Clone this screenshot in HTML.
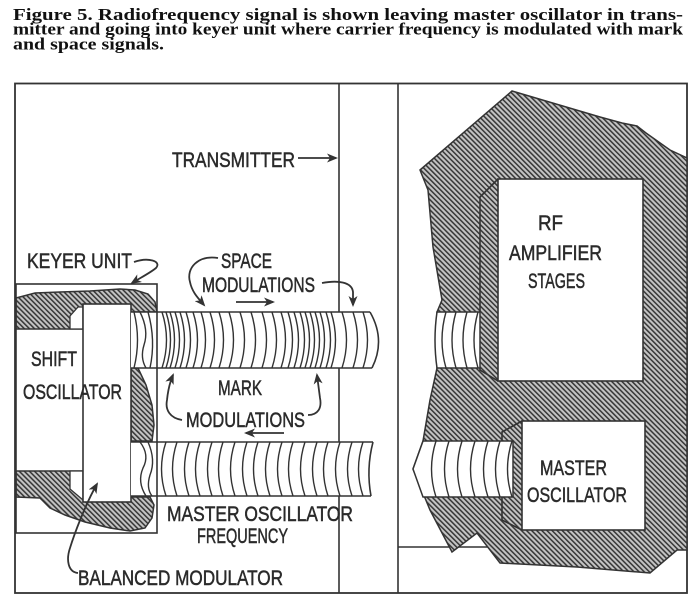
<!DOCTYPE html>
<html>
<head>
<meta charset="utf-8">
<style>
  html,body{margin:0;padding:0;background:#fff;}
  svg{display:block;}
  .cap{font-family:"Liberation Serif",serif;font-weight:bold;font-size:17px;fill:#111;}
  .lb{font-family:"Liberation Sans",sans-serif;font-size:21px;fill:#2a2a2a;stroke:#2a2a2a;stroke-width:0.5;}
  .ln{stroke:#333;stroke-width:1.6;fill:none;}
  .hz{fill:url(#hatch);stroke:#333;stroke-width:1.5;}
  .wb{fill:#fff;stroke:#333;stroke-width:1.6;}
  .rib{stroke:#333;stroke-width:1.4;fill:none;}
  .ar{stroke:#333;stroke-width:1.8;fill:none;}
</style>
</head>
<body>
<svg width="695" height="604" viewBox="0 0 695 604" xmlns="http://www.w3.org/2000/svg">
  <defs>
    <pattern id="hatch" width="3.6" height="3.6" patternUnits="userSpaceOnUse" patternTransform="rotate(-45)">
      <rect width="3.6" height="3.6" fill="#c4c4c4"/>
      <line x1="0.8" y1="0" x2="0.8" y2="3.6" stroke="#333" stroke-width="1.5"/>
    </pattern>
    <marker id="ah" markerWidth="11" markerHeight="9" refX="9" refY="4.5" orient="auto" markerUnits="userSpaceOnUse">
      <path d="M0,0 L11,4.5 L0,9 L3,4.5 Z" fill="#333"/>
    </marker>
  </defs>

  <!-- caption -->
  <text class="cap" x="13" y="20" textLength="670" lengthAdjust="spacingAndGlyphs">Figure 5.  Radiofrequency signal is shown leaving master oscillator in trans-</text>
  <text class="cap" x="13" y="34.5" textLength="670" lengthAdjust="spacingAndGlyphs">mitter and going into keyer unit where carrier frequency is modulated with mark</text>
  <text class="cap" x="13" y="49.5" textLength="151" lengthAdjust="spacingAndGlyphs">and space signals.</text>

  <!-- frame -->
  <rect x="15" y="83.5" width="672" height="509.5" fill="none" stroke="#333" stroke-width="1.8"/>
  <line class="ln" x1="339" y1="83" x2="339" y2="593"/>
  <line class="ln" x1="398" y1="83" x2="398" y2="593"/>
  <line class="ln" x1="398" y1="547" x2="687" y2="547"/>

  <!-- right hatched mass -->
  <polygon class="hz" points="420,170 512,91 600,117 622,123 637,126 646,133 670,150 687,158 687,550 677,550 650,573 577,567 500,563 477,533 452,552 430,510 413,469 423,441 430,400 437,368 437,312 442,300 433,247 428,190"/>

  <!-- RF amplifier box -->
  <polyline class="ln" points="498,179 480,197 480,312"/>
  <polyline class="ln" points="480,368 480,370 498,381"/>
  <rect class="wb" x="498" y="179" width="145" height="202"/>

  <!-- master oscillator box -->
  <polyline class="ln" points="522,421 502,432 502,441"/>
  <polyline class="ln" points="502,497 502,520 522,530"/>
  <rect class="wb" x="522" y="421" width="123" height="109"/>

  <!-- right small upper cylinder -->
  <path d="M437,312 L480,312 L480,368 L437,368 Q433,340 437,312 Z" fill="#fff" stroke="#333" stroke-width="1.5"/>
  <g class="rib">
    <path d="M446,312 Q438,340 446,368"/>
    <path d="M456,312 Q448,340 456,368"/>
    <path d="M467,312 Q459,340 467,368"/>
    <path d="M478,312 Q470,340 478,368"/>
  </g>

  <!-- right lower cylinder -->
  <path d="M423,441 L513,441 L513,497 L423,497 L413,469 Z" fill="#fff" stroke="#333" stroke-width="1.5"/>
  <g class="rib">
    <path d="M436,441 Q427,469 436,497"/>
    <path d="M449,441 Q440,469 449,497"/>
    <path d="M462,441 Q453,469 462,497"/>
    <path d="M475,441 Q466,469 475,497"/>
    <path d="M488,441 Q479,469 488,497"/>
    <path d="M500,441 Q491,469 500,497"/>
    <path d="M512,441 Q503,469 512,497"/>
  </g>

  <!-- left keyer hatched pieces -->
  <polygon class="hz" points="16,298 35,293 60,292 90,291 120,289 135,290 148,294 155,302 157,312 83,312 83,329 16,329"/>
  <polygon class="hz" points="131,368 138,368 146,385 152,405 154,425 152,441 131,441"/>
  <polygon class="hz" points="16,471 83,471 83,497 150,497 154,505 152,518 145,528 130,531 110,528 85,522 65,515 50,508 40,498 16,497"/>
  <!-- notches -->
  <polygon points="70,329 70,316 78,307 83,307 83,329" fill="#fff" stroke="#333" stroke-width="1.3"/>
  <polygon points="70,471 83,471 83,500 70,489" fill="#fff" stroke="#333" stroke-width="1.3"/>
  <!-- balanced modulator block -->
  <rect class="wb" x="83" y="304" width="48" height="198"/>

  <!-- upper left cylinder -->
  <rect x="131" y="312" width="240" height="56" fill="#fff"/>
  <line class="ln" x1="131" y1="312" x2="370" y2="312"/>
  <line class="ln" x1="131" y1="368" x2="372" y2="368"/>
  <path class="ln" d="M370,312 Q386,340 372,368"/>
  <g class="rib">
    <path d="M134,312 Q141,340 134,368"/>
    <path d="M140,312 Q149,330 144,345 Q140,358 146,368"/>
    <path d="M148,312 Q156,340 150,368"/>
    <path d="M162,312 Q171,340 162,368"/>
    <path d="M166,312 Q175,340 166,368"/>
    <path d="M170,312 Q179,340 170,368"/>
    <path d="M175,312 Q184,340 175,368"/>
    <path d="M180,312 Q189,340 180,368"/>
    <path d="M186,312 Q195,340 186,368"/>
    <path d="M193,312 Q202,340 193,368"/>
    <path d="M201,312 Q210,340 201,368"/>
    <path d="M210,312 Q219,340 210,368"/>
    <path d="M219,312 Q228,340 219,368"/>
    <path d="M229,312 Q238,340 229,368"/>
    <path d="M240,312 Q249,340 240,368"/>
    <path d="M251,312 Q260,340 251,368"/>
    <path d="M262,312 Q271,340 262,368"/>
    <path d="M272,312 Q281,340 272,368"/>
    <path d="M281,312 Q290,340 281,368"/>
    <path d="M288,312 Q297,340 288,368"/>
    <path d="M294,312 Q303,340 294,368"/>
    <path d="M300,312 Q309,340 300,368"/>
    <path d="M305,312 Q314,340 305,368"/>
    <path d="M310,312 Q319,340 310,368"/>
    <path d="M315,312 Q324,340 315,368"/>
    <path d="M320,312 Q329,340 320,368"/>
    <path d="M326,312 Q335,340 326,368"/>
    <path d="M331,312 Q340,340 331,368"/>
    <path d="M342,312 Q351,340 342,368"/>
    <path d="M353,312 Q362,340 353,368"/>
    <path d="M363,312 Q372,340 363,368"/>
  </g>

  <!-- lower left cylinder -->
  <rect x="131" y="442" width="242" height="54" fill="#fff"/>
  <line class="ln" x1="131" y1="442" x2="373" y2="442"/>
  <line class="ln" x1="131" y1="496" x2="371" y2="496"/>
  <path class="ln" d="M373,442 Q366,469 371,496"/>
  <g class="rib">
    <path d="M140,442 Q150,455 143,468 Q137,482 146,496"/>
    <path d="M148,442 Q156,460 150,475 Q146,488 152,496"/>
    <path d="M166,442 Q157,469 166,496"/>
    <path d="M177,442 Q168,469 177,496"/>
    <path d="M189,442 Q180,469 189,496"/>
    <path d="M200,442 Q191,469 200,496"/>
    <path d="M212,442 Q203,469 212,496"/>
    <path d="M223,442 Q214,469 223,496"/>
    <path d="M235,442 Q226,469 235,496"/>
    <path d="M247,442 Q238,469 247,496"/>
    <path d="M258,442 Q249,469 258,496"/>
    <path d="M270,442 Q261,469 270,496"/>
    <path d="M282,442 Q273,469 282,496"/>
    <path d="M293,442 Q284,469 293,496"/>
    <path d="M305,442 Q296,469 305,496"/>
    <path d="M317,442 Q308,469 317,496"/>
    <path d="M328,442 Q319,469 328,496"/>
    <path d="M340,442 Q331,469 340,496"/>
    <path d="M352,442 Q343,469 352,496"/>
    <path d="M363,442 Q354,469 363,496"/>
  </g>

  <!-- keyer unit box -->
  <rect x="16" y="284" width="141" height="249" fill="none" stroke="#333" stroke-width="1.6"/>

  <!-- arrows -->
  <path class="ar" d="M298,158 L336,158" marker-end="url(#ah)"/>
  <path class="ar" d="M134,262 C148,257 162,261 156,268 C150,273 140,278 132,283" marker-end="url(#ah)"/>
  <path class="ar" d="M218,258 C198,255 186,268 190,282 C192,292 198,298 204,305" marker-end="url(#ah)"/>
  <path class="ar" d="M322,283 C338,280 352,282 353,292 L353,305" marker-end="url(#ah)"/>
  <path class="ar" d="M236,302 L273,302" marker-end="url(#ah)"/>
  <path class="ar" d="M182,420 C170,418 165,410 167,400 C168,390 170,382 173,375" marker-end="url(#ah)"/>
  <path class="ar" d="M308,415 C318,415 322,408 320,398 L317,375" marker-end="url(#ah)"/>
  <path class="ar" d="M284,433 L246,433" marker-end="url(#ah)"/>
  <path class="ar" d="M78,573 C68,572 66,560 70,548 C74,535 85,505 97,484" marker-end="url(#ah)"/>

  <!-- labels -->
  <text class="lb" x="172" y="167" textLength="123" lengthAdjust="spacingAndGlyphs">TRANSMITTER</text>
  <text class="lb" x="27" y="268" textLength="105" lengthAdjust="spacingAndGlyphs">KEYER UNIT</text>
  <text class="lb" x="221" y="268" textLength="51" lengthAdjust="spacingAndGlyphs">SPACE</text>
  <text class="lb" x="202" y="292" textLength="113" lengthAdjust="spacingAndGlyphs">MODULATIONS</text>
  <text class="lb" x="218" y="395" textLength="44" lengthAdjust="spacingAndGlyphs">MARK</text>
  <text class="lb" x="186" y="427" textLength="119" lengthAdjust="spacingAndGlyphs">MODULATIONS</text>
  <text class="lb" x="31" y="366" textLength="46" lengthAdjust="spacingAndGlyphs">SHIFT</text>
  <text class="lb" x="23" y="399" textLength="99" lengthAdjust="spacingAndGlyphs">OSCILLATOR</text>
  <text class="lb" x="167" y="521" textLength="186" lengthAdjust="spacingAndGlyphs">MASTER OSCILLATOR</text>
  <text class="lb" x="197" y="543" textLength="91" lengthAdjust="spacingAndGlyphs">FREQUENCY</text>
  <text class="lb" x="78" y="585" textLength="205" lengthAdjust="spacingAndGlyphs">BALANCED MODULATOR</text>
  <text class="lb" x="538" y="230" textLength="25" lengthAdjust="spacingAndGlyphs">RF</text>
  <text class="lb" x="509" y="260" textLength="93" lengthAdjust="spacingAndGlyphs">AMPLIFIER</text>
  <text class="lb" x="528" y="288" textLength="57" lengthAdjust="spacingAndGlyphs">STAGES</text>
  <text class="lb" x="540" y="475" textLength="67" lengthAdjust="spacingAndGlyphs">MASTER</text>
  <text class="lb" x="527" y="502" textLength="100" lengthAdjust="spacingAndGlyphs">OSCILLATOR</text>
</svg>
</body>
</html>
